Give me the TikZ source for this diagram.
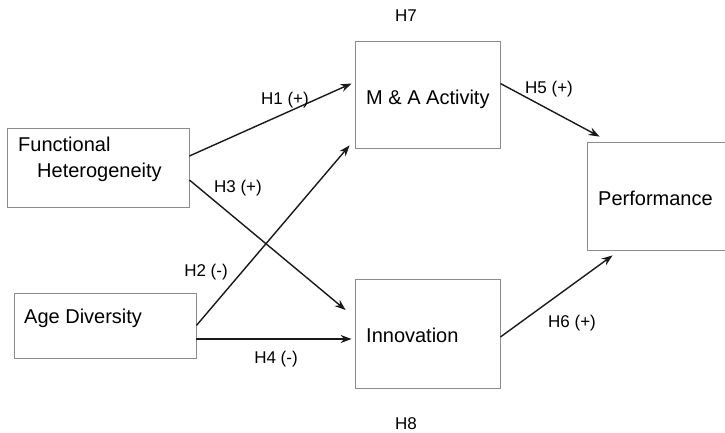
\documentclass[tikz,border=0pt]{standalone}
\usepackage{fontspec}
\setmainfont{Liberation Sans}
\usetikzlibrary{arrows.meta}
\begin{document}
\begin{tikzpicture}[x=1pt,y=-1pt,
  box/.style={draw=black!45,line width=0.8pt,rectangle,inner sep=0pt},
  boxtext/.style={font=\fontsize{20}{24}\selectfont,inner sep=0pt,anchor=base west},
  hyp/.style={font=\fontsize{17}{20}\selectfont,inner sep=0pt},
  link/.style={line width=1.4pt,black!90,-{Stealth[length=11pt,width=8pt]}}]
\useasboundingbox (0,0) rectangle (725,433);
% boxes
\node[box,minimum width=182pt,minimum height=79pt] (fh) at (98,167.5) {};
\node[box,minimum width=182pt,minimum height=65pt] (ad) at (105,325.5) {};
\node[box,minimum width=145pt,minimum height=107pt] (ma) at (427.5,94.5) {};
\node[box,minimum width=145pt,minimum height=109pt] (inn) at (427.5,333.5) {};
\node[box,minimum width=140pt,minimum height=108pt] (perf) at (657,196) {};
% box texts
\node[boxtext] (t1) at (18,151) {Functional};
\node[boxtext] (t2) at (37,177) {Heterogeneity};
\node[boxtext] (t3) at (24,323) {Age Diversity};
\node[boxtext] (t4) at (366,105) {M \& A Activity};
\node[boxtext] (t5) at (598,205) {Performance};
\node[boxtext] (t6) at (366,342) {Innovation};
% arrows
\draw[link] ([yshift=11.5pt]fh.east) -- ([xshift=-3pt,yshift=11pt]ma.west);
\draw[link] (ad.east) -- ([xshift=-5pt,yshift=3pt]ma.south west);
\draw[link] ([yshift=-12.5pt]fh.east) -- ([xshift=-9pt,yshift=23.5pt]inn.west);
\draw[link] ([yshift=-13.5pt]ad.east) -- ([xshift=-3pt,yshift=-5.5pt]inn.west);
\draw[link] ([yshift=11pt]ma.east) -- ([xshift=13pt,yshift=5pt]perf.north west);
\draw[link] ([yshift=-3.5pt]inn.east) -- ([xshift=26pt,yshift=-5pt]perf.south west);
% labels
\node[hyp] (h1) at (285,100) {H1 (+)};
\node[hyp] (h2) at (206,272) {H2 (-)};
\node[hyp] (h3) at (238,188) {H3 (+)};
\node[hyp] (h4) at (276,359) {H4 (-)};
\node[hyp] (h5) at (549,89) {H5 (+)};
\node[hyp] (h6) at (572,323) {H6 (+)};
\node[hyp] (h7) at (406,16) {H7};
\node[hyp] (h8) at (406,424) {H8};
\end{tikzpicture}
\end{document}
